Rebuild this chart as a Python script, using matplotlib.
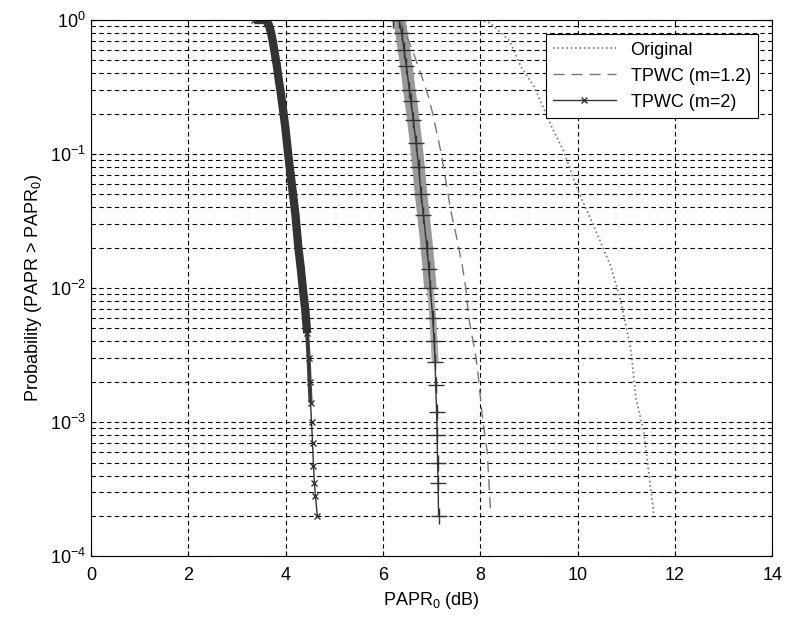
import matplotlib.pyplot as plt

plt.rcParams['font.family'] = ['Liberation Sans', 'DejaVu Sans']
plt.rcParams['mathtext.fontset'] = 'custom'
plt.rcParams['mathtext.rm'] = 'Liberation Sans'
plt.rcParams['mathtext.default'] = 'regular'

# Original (gepunktet)
orig_x = [7.8, 8.0, 8.2, 8.6, 8.83, 9.1, 9.5, 9.7, 10.0, 10.33, 10.68, 10.88, 11.09, 11.19, 11.36, 11.56]
orig_y = [1, 1, 0.95, 0.7, 0.45, 0.32, 0.15, 0.107, 0.054, 0.029, 0.0145, 0.0081, 0.0035, 0.00155, 8.3e-4, 2.1e-4]

# TPWC m=1.2 (gestrichelt)
m12_x = [6.35, 6.6, 6.84, 6.93, 7.02, 7.18, 7.27, 7.39, 7.5, 7.63, 7.7, 7.76, 7.88, 7.94, 8.04, 8.14, 8.21]
m12_y = [1, 0.6, 0.34, 0.27, 0.2, 0.107, 0.07, 0.038, 0.025, 0.0145, 0.01, 0.006, 0.0035, 0.0025, 0.0011, 6e-4, 2.1e-4]

# Kurve mit '+' (ohne Legendeneintrag)
plus_x = [6.2, 6.33, 6.38, 6.43, 6.48, 6.54, 6.57, 6.62, 6.68, 6.73, 6.78, 6.83, 6.9, 6.94, 6.97, 7.02, 7.05, 7.07, 7.08, 7.1, 7.11, 7.12, 7.13, 7.14]
plus_y = [1, 1, 0.8, 0.6, 0.45, 0.3, 0.25, 0.18, 0.12, 0.08, 0.05, 0.035, 0.02, 0.014, 0.01, 0.006, 0.004, 0.0028, 0.0019, 0.0012, 8e-4, 5e-4, 3.5e-4, 2e-4]

# TPWC m=2 (durchgezogen, x)
m2_x = [3.35, 3.6, 3.66, 3.7, 3.74, 3.78, 3.82, 3.86, 3.89, 3.94, 3.99, 4.05, 4.1, 4.15, 4.2, 4.26, 4.31, 4.35, 4.4, 4.44, 4.47, 4.49, 4.51, 4.53, 4.55, 4.57, 4.59, 4.61, 4.65]
m2_y = [1, 1, 0.9, 0.8, 0.67, 0.55, 0.45, 0.35, 0.3, 0.22, 0.16, 0.1, 0.07, 0.05, 0.035, 0.02, 0.014, 0.01, 0.007, 0.0046, 0.003, 0.002, 0.0014, 0.001, 7e-4, 4.7e-4, 3.5e-4, 2.8e-4, 2e-4]

fig = plt.figure(figsize=(7.85, 6.25), dpi=100)
ax = fig.add_axes([0.116, 0.11, 0.868, 0.858])

# dicke Bänder, wo die Marker im Original dicht gedrängt liegen (nach unten dünner)
ax.semilogy(plus_x[:15], plus_y[:15], color='#999999', linewidth=9, solid_capstyle='butt')
ax.semilogy(plus_x[14:18], plus_y[14:18], color='#aaaaaa', linewidth=5, solid_capstyle='butt')
ax.semilogy(plus_x, plus_y, color='#333333', linewidth=1, marker='+', markersize=11, markeredgewidth=1)
ax.semilogy(m2_x[:20], m2_y[:20], color='#333333', linewidth=6, solid_capstyle='butt')
ax.semilogy(m2_x[19:23], m2_y[19:23], color='#444444', linewidth=3, solid_capstyle='butt')

l1, = ax.semilogy(orig_x, orig_y, color='#777777', linestyle=':', linewidth=1.2, label='Original')
l2, = ax.semilogy(m12_x, m12_y, color='#777777', linestyle=(0, (8, 5)), linewidth=1, label='TPWC (m=1.2)')
l3, = ax.semilogy(m2_x, m2_y, color='#333333', linewidth=1, marker='x', markersize=5, label='TPWC (m=2)')

ax.set_xlim(0, 14)
ax.set_ylim(1e-4, 1)
ax.set_xticks(range(0, 15, 2))
ax.grid(True, which='major', color='black', linestyle=(0, (4, 3)), linewidth=0.8)
ax.grid(True, which='minor', axis='y', color='black', linestyle=(0, (4, 3)), linewidth=0.8)
ax.tick_params(which='both', direction='in', top=True, right=True, labelsize=13)
ax.tick_params(axis='x', pad=8)

ax.set_xlabel('PAPR$_0$ (dB)', fontsize=13)
ax.set_ylabel('Probability (PAPR > PAPR$_0$)', fontsize=13)

leg = ax.legend(handles=[l1, l2, l3], loc='upper right', fontsize=13, fancybox=False,
                edgecolor='black', framealpha=1, handlelength=3.5, borderaxespad=0.8)
leg.get_frame().set_linewidth(0.8)

plt.savefig('out.png', dpi=100)
